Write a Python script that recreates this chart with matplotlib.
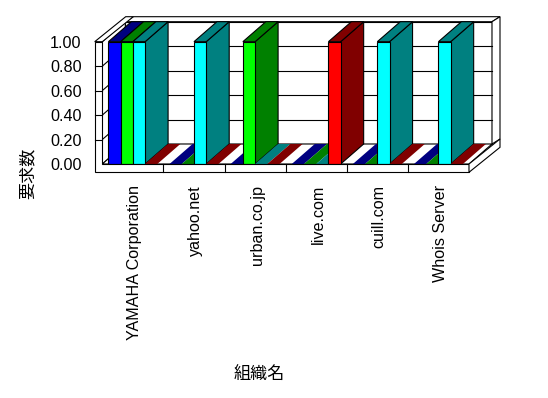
import matplotlib
matplotlib.use("Agg")
import matplotlib.pyplot as plt
from matplotlib.patches import Polygon
from matplotlib.lines import Line2D
from matplotlib.transforms import IdentityTransform, ScaledTranslation
import numpy as np

# ---- data ----
categories = ["YAMAHA Corporation", "yahoo.net", "urban.co.jp", "live.com", "cuill.com", "Whois Server"]
series_blue = [1, 0, 0, 0, 0, 0]
series_lime = [1, 0, 1, 0, 0, 0]
series_cyan = [1, 1, 0, 0, 1, 1]
series_red = [0, 0, 0, 1, 0, 0]
yticks = [0.0, 0.2, 0.4, 0.6, 0.8, 1.0]
ytick_labels = ["0.00", "0.20", "0.40", "0.60", "0.80", "1.00"]
y_title = "要求数"
x_title = "組織名"

series = [series_blue, series_lime, series_cyan, series_red]
front_colors = ["#0000FF", "#00FF00", "#00FFFF", "#FF0000"]
dark_colors = ["#000080", "#008000", "#008080", "#800000"]

# ---- figure / axes (front plane) ----
W_PX, H_PX, DPI = 548, 398, 100
fig = plt.figure(figsize=(W_PX / DPI, H_PX / DPI), dpi=DPI)
fig.patch.set_facecolor("white")
L, R, TOP, BOT = 102.3, 469.0, 41.7, 164.0
ax = fig.add_axes([L / W_PX, 1 - BOT / H_PX, (R - L) / W_PX, (BOT - TOP) / H_PX])
n = len(categories)
ax.set_xlim(0, n)
ax.set_ylim(0, 1)
ax.set_frame_on(False)
ax.patch.set_visible(False)

DEPTH = np.array([23.0, 20.0])   # px offset of the back plane
THICK = np.array([8.0, 5.0])     # back wall thickness offset
WALL = 7.6                        # left wall thickness (px)
FLOOR = 8.3                       # floor thickness (px)
LW = 0.8
ZERO = np.array([0.0, 0.0])
WL = np.array([-WALL, 0.0])
FL = np.array([0.0, -FLOOR])


def pts(data_xy, offs):
    d = ax.transData.transform(np.asarray(data_xy, float))
    return d + np.asarray(offs, float)


def poly(data_xy, offs, fc, ec="black", z=1, lw=LW):
    P = pts(data_xy, offs)
    ax.add_artist(Polygon(P, closed=True, facecolor=fc, edgecolor=ec, linewidth=lw,
                          transform=IdentityTransform(), zorder=z, clip_on=False,
                          joinstyle="miter", antialiased=True))


def line(data_xy, offs, z=2, lw=LW, color="black"):
    P = pts(data_xy, offs)
    ax.add_artist(Line2D(P[:, 0], P[:, 1], color=color, linewidth=lw,
                         transform=IdentityTransform(), zorder=z, clip_on=False))


D = DEPTH
DT = DEPTH + THICK

# back wall
poly([(0, 0), (n, 0), (n, 1), (0, 1)], [D, D, D, D], "white", z=1)
for v in yticks[1:-1]:
    line([(0, v), (n, v)], [D, D], z=1.1)
poly([(0, 1), (n, 1), (n, 1), (0, 1)], [D, D, DT, DT], "white", z=1)
poly([(n, 1), (n, 1), (n, 0), (n, 0)], [D, DT, DT, D], "white", z=1)

# left wall inner face
poly([(0, 0), (0, 0), (0, 1), (0, 1)], [ZERO, D, D, ZERO], "white", z=1.2)
for v in yticks[1:-1]:
    line([(0, v), (0, v)], [ZERO, D], z=1.3)

# floor top
poly([(0, 0), (n, 0), (n, 0), (0, 0)], [ZERO, ZERO, D, D], "white", z=1.4)

# bars
for i in range(n):
    for j, s in enumerate(series):
        v = s[i]
        x0 = i + 0.1 + 0.2 * j
        x1 = x0 + 0.2
        z = 2 + i + 0.1 * j
        if v > 0:
            poly([(x1, 0), (x1, 0), (x1, v), (x1, v)], [ZERO, D, D, ZERO], dark_colors[j], z=z)
            poly([(x0, v), (x1, v), (x1, v), (x0, v)], [ZERO, ZERO, D, D], dark_colors[j], z=z + 0.01)
            poly([(x0, 0), (x1, 0), (x1, v), (x0, v)], [ZERO] * 4, front_colors[j], z=z + 0.02)
        else:
            poly([(x0, 0), (x1, 0), (x1, 0), (x0, 0)], [ZERO, ZERO, D, D], dark_colors[j],
                 ec="none", z=z)

# left wall top, front L shape, floor right face
ZT = 20
poly([(0, 1), (0, 1), (0, 1), (0, 1)], [WL, ZERO, DT, DT + WL], "white", z=ZT)
poly([(0, 1), (0, 1), (0, 0), (n, 0), (n, 0), (0, 0)],
     [WL, ZERO, ZERO, ZERO, FL, WL + FL], "white", z=ZT)
poly([(n, 0), (n, 0), (n, 0), (n, 0)], [ZERO, DT, DT + FL, FL], "white", z=ZT)
for k in range(1, n):
    line([(k, 0), (k, 0)], [ZERO, FL], z=ZT + 1)
for v in yticks[1:-1]:
    line([(0, v), (0, v)], [WL, ZERO], z=ZT + 1)

# ---- ticks / labels ----
tick_font = dict(family=["Liberation Sans", "DejaVu Sans"], size=11.6)
ax.set_yticks(yticks)
ax.set_yticklabels(ytick_labels, **tick_font)
ax.set_xticks([i + 0.5 for i in range(n)])
ax.set_xticklabels(categories, rotation=90, va="top", ha="center", **tick_font)
ax.tick_params(axis="y", length=0, pad=14.8)
ax.tick_params(axis="x", length=0, pad=15.1)
shift = ScaledTranslation(2.0 / DPI, 0, fig.dpi_scale_trans)
for lbl in ax.get_xticklabels():
    lbl.set_transform(lbl.get_transform() + shift)

jp = ["Noto Sans CJK JP", "DejaVu Sans"]
fig.text(28 / W_PX, 1 - 173 / H_PX, y_title, rotation=90, ha="center", va="center",
         family=jp, size=12.3)
fig.text(259 / W_PX, 1 - 375 / H_PX, x_title, ha="center", va="center", family=jp, size=12.3)

fig.savefig("out.png", dpi=DPI, facecolor="white")
